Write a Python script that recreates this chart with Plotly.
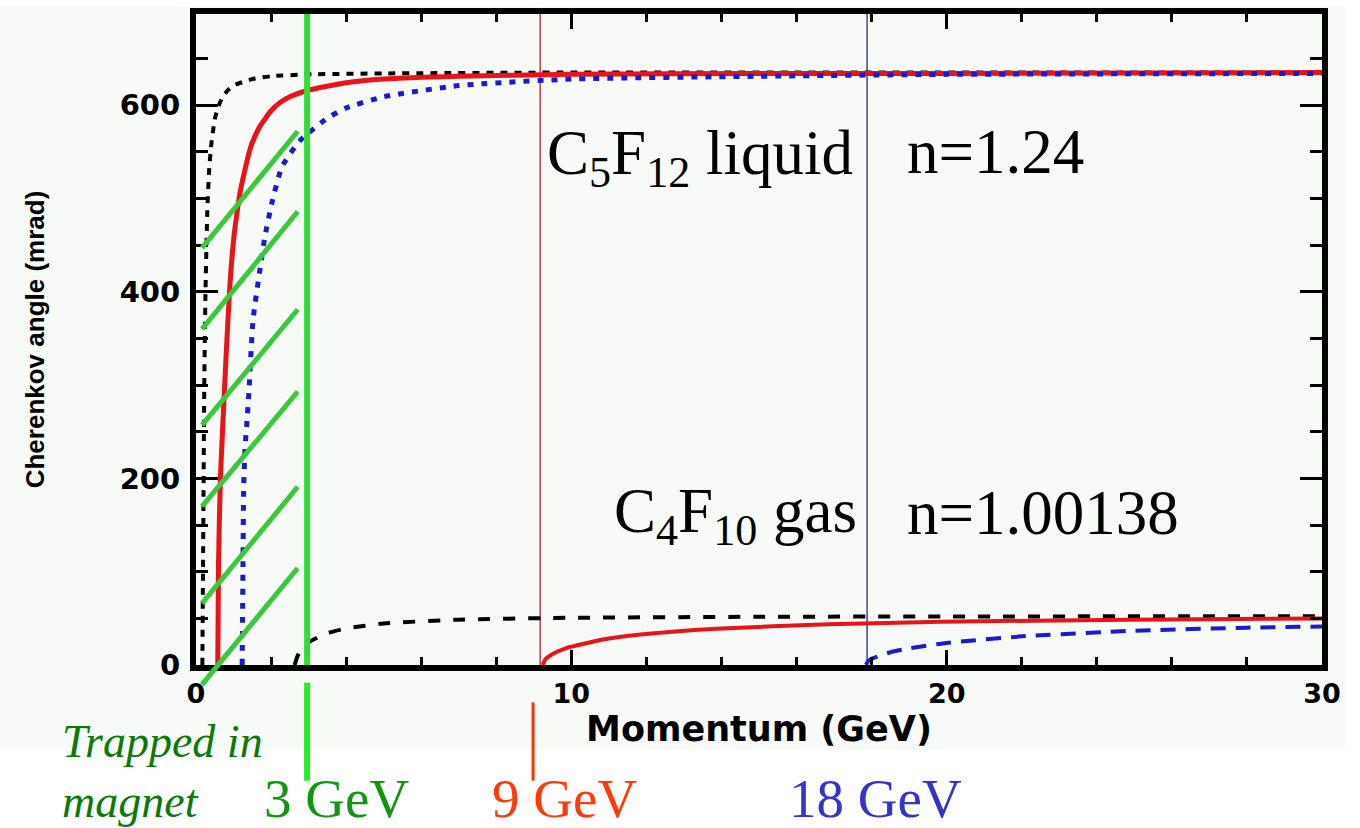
import plotly.graph_objects as go

# ---------------- data ----------------
# C5F12 liquid radiator, n = 1.24
p_liq_pi = [0.17, 0.19, 0.2, 0.22, 0.25, 0.3, 0.35, 0.4, 0.5, 0.6, 0.7, 0.85, 1.0, 1.5, 2, 3, 5, 10, 20, 30]
th_liq_pi = [0, 120, 182, 300, 393, 485, 530, 555, 585, 599, 608, 616, 621, 628, 631, 633, 634, 635, 635, 635]

p_liq_K = [0.58, 0.6, 0.65, 0.7, 0.8, 0.9, 1.0, 1.1, 1.2, 1.3, 1.4, 1.5, 1.7, 2, 2.25, 2.5, 3, 4, 5, 7, 10, 15, 20, 30]
th_liq_K = [0, 110, 200, 245, 330, 405, 455, 487, 512, 530, 547, 560, 577, 594, 603, 609, 616, 624, 628, 631, 633, 634, 634, 635]

p_liq_p = [1.23, 1.25, 1.27, 1.31, 1.36, 1.41, 1.52, 1.7, 1.84, 2.02, 2.29, 2.77, 3.5, 4, 5, 7, 10, 15, 20, 30]
th_liq_p = [0, 100, 190, 235, 262, 293, 370, 423, 460, 495, 534, 562, 586, 597, 609, 621, 628, 631, 633, 634]

# C4F10 gas radiator, n = 1.00138
p_gas_pi = [2.63, 2.7, 2.8, 3.0, 3.5, 4, 5, 7, 10, 15, 20, 30]
th_gas_pi = [0, 9, 16.5, 24.4, 34.2, 39.2, 44.5, 48.6, 50.6, 51.7, 52.0, 52.3]

p_gas_K = [9.24, 9.3, 9.35, 9.5, 9.85, 10.85, 11.85, 13.85, 16.85, 19.85, 24.85, 30]
th_gas_K = [0, 5.5, 7.7, 11.9, 17.9, 27.3, 32.6, 38.9, 43.7, 46.3, 48.6, 49.9]

p_gas_p = [17.85, 17.9, 18, 18.5, 19, 20, 22, 25, 28, 30]
th_gas_p = [0, 3.7, 6.7, 13.7, 17.9, 23.7, 30.7, 36.7, 40.0, 41.2]

# threshold markers (GeV)
mark_green = 2.96
mark_red = 9.17
mark_blue = 17.88
mark_red_low = 8.98

# hatch lines "trapped in magnet": (x0, y0, x1, y1) in GeV / mrad
hatch_x0 = [0.16, 0.16, 0.16, 0.16, 0.16, 0.16]
hatch_y0 = [447, 360, 257, 170, 66, -21]
hatch_x1 = [2.71, 2.71, 2.71, 2.71, 2.71, 2.71]
hatch_y1 = [572, 486, 381, 293, 191, 104]

x_ticks = [0, 10, 20, 30]
y_ticks = [0, 200, 400, 600]
X_RANGE = [0, 30]
Y_RANGE = [0, 697.7]


def yf(v):
    return (v - Y_RANGE[0]) / (Y_RANGE[1] - Y_RANGE[0])


fig = go.Figure()
smooth = dict(shape="spline", smoothing=0.5)

# pions (black)
fig.add_trace(go.Scatter(x=p_liq_pi, y=th_liq_pi, mode="lines", name="pi liquid",
                         line=dict(color="black", width=4, dash="7px,7px", **smooth)))
fig.add_trace(go.Scatter(x=p_gas_pi, y=th_gas_pi, mode="lines", name="pi gas",
                         line=dict(color="black", width=4, dash="12px,13px", **smooth)))
# kaons (red)
fig.add_trace(go.Scatter(x=p_liq_K, y=th_liq_K, mode="lines", name="K liquid",
                         line=dict(color="#e8141c", width=5, **smooth)))
fig.add_trace(go.Scatter(x=p_gas_K, y=th_gas_K, mode="lines", name="K gas",
                         line=dict(color="#e8141c", width=4, **smooth)))
# protons (blue)
fig.add_trace(go.Scatter(x=p_liq_p, y=th_liq_p, mode="lines", name="p liquid",
                         line=dict(color="#1a1ad0", width=5, dash="6px,8px", **smooth)))
fig.add_trace(go.Scatter(x=p_gas_p, y=th_gas_p, mode="lines", name="p gas",
                         line=dict(color="#1a1ad0", width=4, dash="15px,10px", **smooth)))

shapes = []
# background of the original picture
shapes.append(dict(type="rect", xref="paper", yref="paper", layer="below",
                   x0=-196 / 1126, x1=(1345 - 196) / 1126, y0=(665 - 750) / 657, y1=(665) / 657,
                   fillcolor="#f8faf8", line=dict(width=0)))
# thin threshold lines inside the plot
shapes.append(dict(type="line", xref="x", yref="y domain", layer="below",
                   x0=mark_red, x1=mark_red, y0=0, y1=1, line=dict(color="#b0404c", width=1.5)))
shapes.append(dict(type="line", xref="x", yref="y domain", layer="below",
                   x0=mark_blue, x1=mark_blue, y0=0, y1=1, line=dict(color="#4040a8", width=1.5)))
# green 3 GeV line
shapes.append(dict(type="line", xref="x", yref="y domain", layer="above",
                   x0=mark_green, x1=mark_green, y0=0, y1=1, line=dict(color="#2ee02e", width=6)))
# hatch
for a, b, c, d in zip(hatch_x0, hatch_y0, hatch_x1, hatch_y1):
    shapes.append(dict(type="line", xref="x", yref="y domain", layer="above",
                       x0=a, y0=yf(b), x1=c, y1=yf(d), line=dict(color="#3cc83c", width=5)))
# short markers below the axis
shapes.append(dict(type="line", xref="x", yref="y domain", layer="above",
                   x0=mark_green, x1=mark_green, y0=yf(-19), y1=yf(-124),
                   line=dict(color="#22ee22", width=6)))
shapes.append(dict(type="line", xref="x", yref="y domain", layer="above",
                   x0=mark_red_low, x1=mark_red_low, y0=yf(-40), y1=yf(-124),
                   line=dict(color="#ff3300", width=3)))

serif = "Liberation Serif, Times New Roman, serif"
annotations = [
    dict(x=9.3, y=544, xref="x", yref="y", xanchor="left", yanchor="middle", showarrow=False,
         text="C<sub>5</sub>F<sub>12</sub> liquid", font=dict(family=serif, size=63, color="black")),
    dict(x=18.9, y=550, xref="x", yref="y", xanchor="left", yanchor="middle", showarrow=False,
         text="n=1.24", font=dict(family=serif, size=63, color="black")),
    dict(x=11.08, y=160, xref="x", yref="y", xanchor="left", yanchor="middle", showarrow=False,
         text="C<sub>4</sub>F<sub>10</sub> gas", font=dict(family=serif, size=63, color="black")),
    dict(x=18.9, y=163, xref="x", yref="y", xanchor="left", yanchor="middle", showarrow=False,
         text="n=1.00138", font=dict(family=serif, size=63, color="black")),
    dict(x=(60 - 196) / 1126, y=(665 - 772) / 657, xref="paper", yref="paper", xanchor="left",
         yanchor="middle", showarrow=False, align="left",
         text="<i>Trapped in</i><br><i>magnet</i>", font=dict(family=serif, size=46, color="#0c780c")),
    dict(x=(262 - 196) / 1126, y=(665 - 800) / 657, xref="paper", yref="paper", xanchor="left",
         yanchor="middle", showarrow=False, text="3 GeV", font=dict(family=serif, size=55, color="#129612")),
    dict(x=(490 - 196) / 1126, y=(665 - 800) / 657, xref="paper", yref="paper", xanchor="left",
         yanchor="middle", showarrow=False, text="9 GeV", font=dict(family=serif, size=55, color="#ff3a0a")),
    dict(x=(787 - 196) / 1126, y=(665 - 800) / 657, xref="paper", yref="paper", xanchor="left",
         yanchor="middle", showarrow=False, text="18 GeV", font=dict(family=serif, size=55, color="#3434c8")),
]

xtickfont = dict(family="DejaVu Sans", size=27, color="black", weight="bold")
ytickfont = dict(family="DejaVu Sans", size=29, color="black", weight="bold")

fig.update_layout(
    width=1360, height=828,
    margin=dict(l=196, r=38, t=8, b=163),
    paper_bgcolor="white",
    plot_bgcolor="rgba(0,0,0,0)",
    showlegend=False,
    shapes=shapes,
    annotations=annotations,
    xaxis=dict(
        range=X_RANGE, tickvals=x_ticks, ticktext=[str(v) for v in x_ticks],
        ticks="inside", ticklen=15, tickwidth=3, tickcolor="black",
        minor=dict(dtick=2, ticks="inside", ticklen=8, tickwidth=3, tickcolor="black"),
        showline=True, linewidth=6, linecolor="black", mirror="ticks",
        showgrid=False, zeroline=False, tickfont=xtickfont,
        title=dict(text="Momentum (GeV)", standoff=2,
                   font=dict(family="DejaVu Sans", size=35, color="black", weight="bold")),
    ),
    yaxis=dict(
        range=Y_RANGE, tickvals=y_ticks, ticktext=[str(v) for v in y_ticks],
        ticks="inside", ticklen=22, tickwidth=3, tickcolor="black",
        minor=dict(dtick=50, ticks="inside", ticklen=12, tickwidth=3, tickcolor="black"),
        showline=True, linewidth=6, linecolor="black", mirror="ticks",
        showgrid=False, zeroline=False, tickfont=ytickfont, ticklabelstandoff=4,
        title=dict(text="Cherenkov angle (mrad)", standoff=70,
                   font=dict(family="Liberation Sans, Arial, sans-serif", size=26, color="black", weight="bold")),
    ),
)

fig.write_html("out.html")
